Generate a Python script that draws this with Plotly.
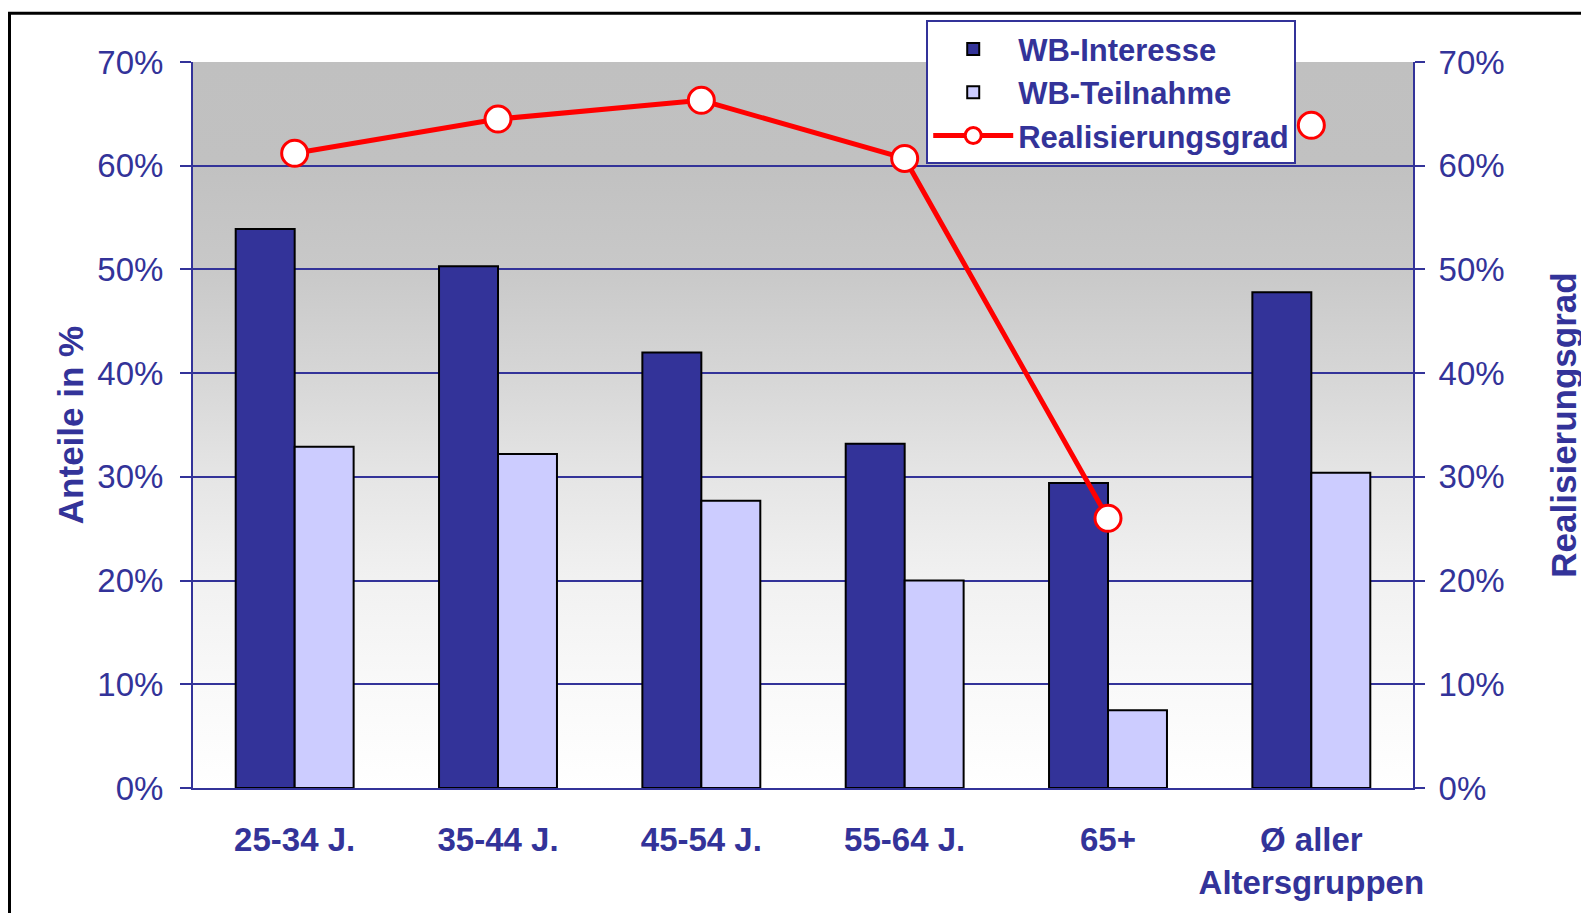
import base64
import plotly.graph_objects as go

categories = ["25-34 J.", "35-44 J.", "45-54 J.", "55-64 J.", "65+", "Ø aller<br>Altersgruppen"]
wb_interesse = [53.9, 50.3, 42.0, 33.2, 29.4, 47.8]
wb_teilnahme = [32.9, 32.2, 27.7, 20.0, 7.5, 30.4]
realisierungsgrad = [61.2, 64.5, 66.3, 60.7, 26.0, 63.9]
y_ticks = [0, 10, 20, 30, 40, 50, 60, 70]

BLUE = "#333399"
RED = "#ff0000"
FONT = "Liberation Sans, Arial, sans-serif"

svg = ("<svg xmlns='http://www.w3.org/2000/svg' width='100' height='100' preserveAspectRatio='none'>"
       "<defs><linearGradient id='g' x1='0' y1='0' x2='0' y2='1'>"
       "<stop offset='0' stop-color='#c0c0c0'/>"
       "<stop offset='0.14' stop-color='#c1c1c1'/>"
       "<stop offset='0.28' stop-color='#c8c8c8'/>"
       "<stop offset='0.43' stop-color='#d6d6d6'/>"
       "<stop offset='0.57' stop-color='#e5e5e5'/>"
       "<stop offset='0.71' stop-color='#f1f1f1'/>"
       "<stop offset='0.86' stop-color='#f9f9f9'/>"
       "<stop offset='1' stop-color='#ffffff'/>"
       "</linearGradient></defs><rect width='100' height='100' fill='url(#g)'/></svg>")
svg_uri = "data:image/svg+xml;base64," + base64.b64encode(svg.encode()).decode()

marker_style = dict(size=26, color="white", line=dict(color=RED, width=3))

fig = go.Figure()
fig.add_trace(go.Bar(
    x=categories, y=wb_interesse, name="WB-Interesse",
    marker=dict(color=BLUE, line=dict(color="black", width=2)),
))
fig.add_trace(go.Bar(
    x=categories, y=wb_teilnahme, name="WB-Teilnahme",
    marker=dict(color="#ccccff", line=dict(color="black", width=2)),
))
# age groups: connected line
fig.add_trace(go.Scatter(
    x=categories[:-1], y=realisierungsgrad[:-1], name="Realisierungsgrad", yaxis="y2",
    mode="lines+markers",
    line=dict(color=RED, width=5),
    marker=marker_style,
))
# overall average: standalone marker
fig.add_trace(go.Scatter(
    x=categories[-1:], y=realisierungsgrad[-1:], name="Realisierungsgrad", yaxis="y2",
    mode="markers", marker=marker_style, showlegend=False,
))

tickvals = y_ticks
ticktext = [f"{v}%" for v in y_ticks]

T, B, L, R = 50, 125, 185, 176
H, W = 905, 1581
ph = H - T - B

fig.update_layout(
    width=W, height=H,
    margin=dict(l=L, r=R, t=T, b=B),
    paper_bgcolor="white",
    plot_bgcolor="rgba(0,0,0,0)",
    barmode="group", bargap=0.42, bargroupgap=0,
    font=dict(family=FONT, color=BLUE, size=32),
    showlegend=True,
    legend=dict(
        x=0.601, y=1 + (T - 8) / ph, xanchor="left", yanchor="top",
        bgcolor="white", bordercolor=BLUE, borderwidth=2,
        font=dict(size=31, weight="bold", color=BLUE, family=FONT),
        tracegroupgap=0, itemwidth=80,
    ),
    xaxis=dict(
        showgrid=False, showline=True, linecolor=BLUE, linewidth=2,
        ticks="", tickfont=dict(size=33, weight="bold", color=BLUE, family=FONT),
        ticklabelstandoff=21,
    ),
    yaxis=dict(
        range=[0, 70], tickvals=tickvals, ticktext=ticktext,
        showgrid=True, gridcolor=BLUE, gridwidth=2,
        showline=True, linecolor=BLUE, linewidth=2,
        ticks="outside", ticklen=11, tickwidth=2, tickcolor=BLUE,
        tickfont=dict(size=33, color=BLUE, family=FONT),
        ticklabelstandoff=10,
        zeroline=False,
        title=dict(text="Anteile in %", font=dict(size=35, weight="bold", color=BLUE, family=FONT), standoff=3),
    ),
    yaxis2=dict(
        range=[0, 70], tickvals=tickvals, ticktext=ticktext,
        overlaying="y", side="right", showgrid=False,
        showline=True, linecolor=BLUE, linewidth=2,
        ticks="outside", ticklen=10, tickwidth=2, tickcolor=BLUE,
        tickfont=dict(size=33, color=BLUE, family=FONT),
        ticklabelstandoff=7,
        zeroline=False,
        title=dict(text="Realisierungsgrad", font=dict(size=35, weight="bold", color=BLUE, family=FONT), standoff=48),
    ),
    images=[dict(
        source=svg_uri, xref="paper", yref="paper", x=0, y=1, sizex=1, sizey=1,
        xanchor="left", yanchor="top", sizing="stretch", layer="below",
    )],
    shapes=[dict(
        type="rect", xref="paper", yref="paper",
        x0=-(L - 1.5) / 1220, x1=1.3, y0=-0.4, y1=1 + (T - 1.0) / ph,
        line=dict(color="black", width=3), fillcolor="rgba(0,0,0,0)", layer="above",
    )],
)

fig.write_html("out.html")
